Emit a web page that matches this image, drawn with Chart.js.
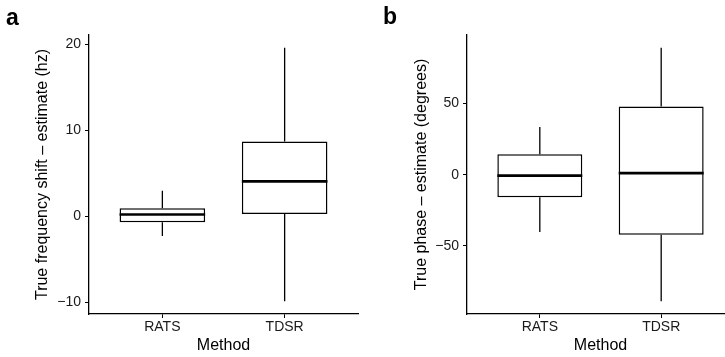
<!DOCTYPE html>
<html>
<head>
<meta charset="utf-8">
<script src="https://cdn.jsdelivr.net/npm/chart.js@4.4.0/dist/chart.umd.min.js"></script>
<style>
  html, body { margin: 0; padding: 0; background: #fff; overflow: hidden; }
  body { width: 725px; height: 357px; position: relative; }
  .panel { position: absolute; top: 0; height: 357px; }
  .letter { position: absolute; font: bold 23px "Liberation Sans", Arial, sans-serif; color: #000; line-height: 1; }
</style>
</head>
<body>
<div class="panel" style="left:0;width:362px;"><canvas id="freqChart"></canvas></div>
<div class="panel" style="left:362px;width:372px;"><canvas id="phaseChart"></canvas></div>
<div class="letter" style="left:6px;top:6px;">a</div>
<div class="letter" style="left:383px;top:5px;">b</div>
<script>
const categories = ["RATS", "TDSR"];

// frequency shift (hz): whisker low, Q1, median, Q3, whisker high
const freqLow = [-2.3, -9.9];
const freqQ1 = [-0.7, 0.27];
const freqMedian = [0.2, 4.05];
const freqQ3 = [0.93, 8.68];
const freqHigh = [2.95, 19.6];
const freqTicks = [-10, 0, 10, 20];

// phase (degrees)
const phaseLow = [-40.4, -89.2];
const phaseQ1 = [-16, -42.3];
const phaseMedian = [-0.7, 1.1];
const phaseQ3 = [14.3, 47.9];
const phaseHigh = [33.5, 89.4];
const phaseTicks = [-50, 0, 50];

const FONT = "'Liberation Sans', Arial, sans-serif";

// whiskers + median drawn on top of the floating bars
const boxExtras = {
    id: "boxExtras",
    afterDatasetsDraw(chart, args, opts) {
        const { ctx, scales: { x, y } } = chart;
        const meta = chart.getDatasetMeta(0);
        ctx.save();
        ctx.strokeStyle = "#000";
        ctx.lineCap = "butt";
        opts.low.forEach((lo, i) => {
            const cx = x.getPixelForValue(i + 1);
            const half = meta.data[i].width / 2;
            ctx.lineWidth = 1.3;
            ctx.beginPath();
            ctx.moveTo(cx, y.getPixelForValue(opts.high[i]));
            ctx.lineTo(cx, y.getPixelForValue(opts.q3[i]));
            ctx.moveTo(cx, y.getPixelForValue(opts.q1[i]));
            ctx.lineTo(cx, y.getPixelForValue(lo));
            ctx.stroke();
            ctx.lineWidth = 2.6;
            ctx.beginPath();
            const my = y.getPixelForValue(opts.median[i]);
            ctx.moveTo(cx - half, my);
            ctx.lineTo(cx + half, my);
            ctx.stroke();
        });
        ctx.restore();
    }
};

function boxChart(id, q1, median, q3, low, high, ticks, yTitle, yWidth, yTitlePad, rightPad) {
    const span = Math.max(...high) - Math.min(...low);
    return new Chart(document.getElementById(id), {
        type: "bar",
        data: {
            datasets: [{
                data: categories.map((c, i) => ({ x: i + 1, y: [q1[i], q3[i]] })),
                backgroundColor: "#fff",
                borderColor: "#000",
                borderWidth: 1.5,
                borderSkipped: false,
                categoryPercentage: 1,
                barPercentage: 0.7
            }]
        },
        options: {
            responsive: true,
            maintainAspectRatio: false,
            animation: false,
            layout: { padding: { left: 0, top: 35, right: rightPad, bottom: 0 } },
            plugins: {
                legend: { display: false },
                tooltip: { enabled: false },
                boxExtras: { low, q1, median, q3, high }
            },
            scales: {
                x: {
                    type: "linear",
                    min: 0.4,
                    max: 2.6,
                    offset: false,
                    afterBuildTicks: s => { s.ticks = categories.map((c, i) => ({ value: i + 1 })); },
                    afterFit: s => { s.height = 43; },
                    ticks: {
                        callback: v => categories[v - 1],
                        font: { family: FONT, size: 14 },
                        color: "#1a1a1a",
                        padding: 1,
                        maxRotation: 0
                    },
                    grid: { offset: false, drawOnChartArea: false, drawTicks: true, tickLength: 4, color: "#000", lineWidth: 1 },
                    border: { display: true, color: "#000", width: 1.3 },
                    title: {
                        display: true,
                        text: "Method",
                        font: { family: FONT, size: 16 },
                        color: "#000",
                        padding: { top: 0, bottom: 2 }
                    }
                },
                y: {
                    type: "linear",
                    min: Math.min(...low) - 0.05 * span,
                    max: Math.max(...high) + 0.05 * span,
                    afterBuildTicks: s => { s.ticks = ticks.map(v => ({ value: v })); },
                    afterFit: s => { s.width = yWidth; },
                    ticks: {
                        callback: v => String(v).replace("-", "\u2212"),
                        font: { family: FONT, size: 14 },
                        color: "#1a1a1a",
                        padding: 4
                    },
                    grid: { drawOnChartArea: false, drawTicks: true, tickLength: 4, color: "#000", lineWidth: 1 },
                    border: { display: true, color: "#000", width: 1.3 },
                    title: {
                        display: true,
                        text: yTitle,
                        font: { family: FONT, size: 16 },
                        color: "#000",
                        padding: { top: yTitlePad, bottom: 0 }
                    }
                }
            }
        },
        plugins: [boxExtras]
    });
}

boxChart("freqChart", freqQ1, freqMedian, freqQ3, freqLow, freqHigh, freqTicks,
    "True frequency shift \u2013 estimate (hz)", 89, 33, 4);
boxChart("phaseChart", phaseQ1, phaseMedian, phaseQ3, phaseLow, phaseHigh, phaseTicks,
    "True phase \u2013 estimate (degrees)", 105, 50, 0);
</script>
</body>
</html>
